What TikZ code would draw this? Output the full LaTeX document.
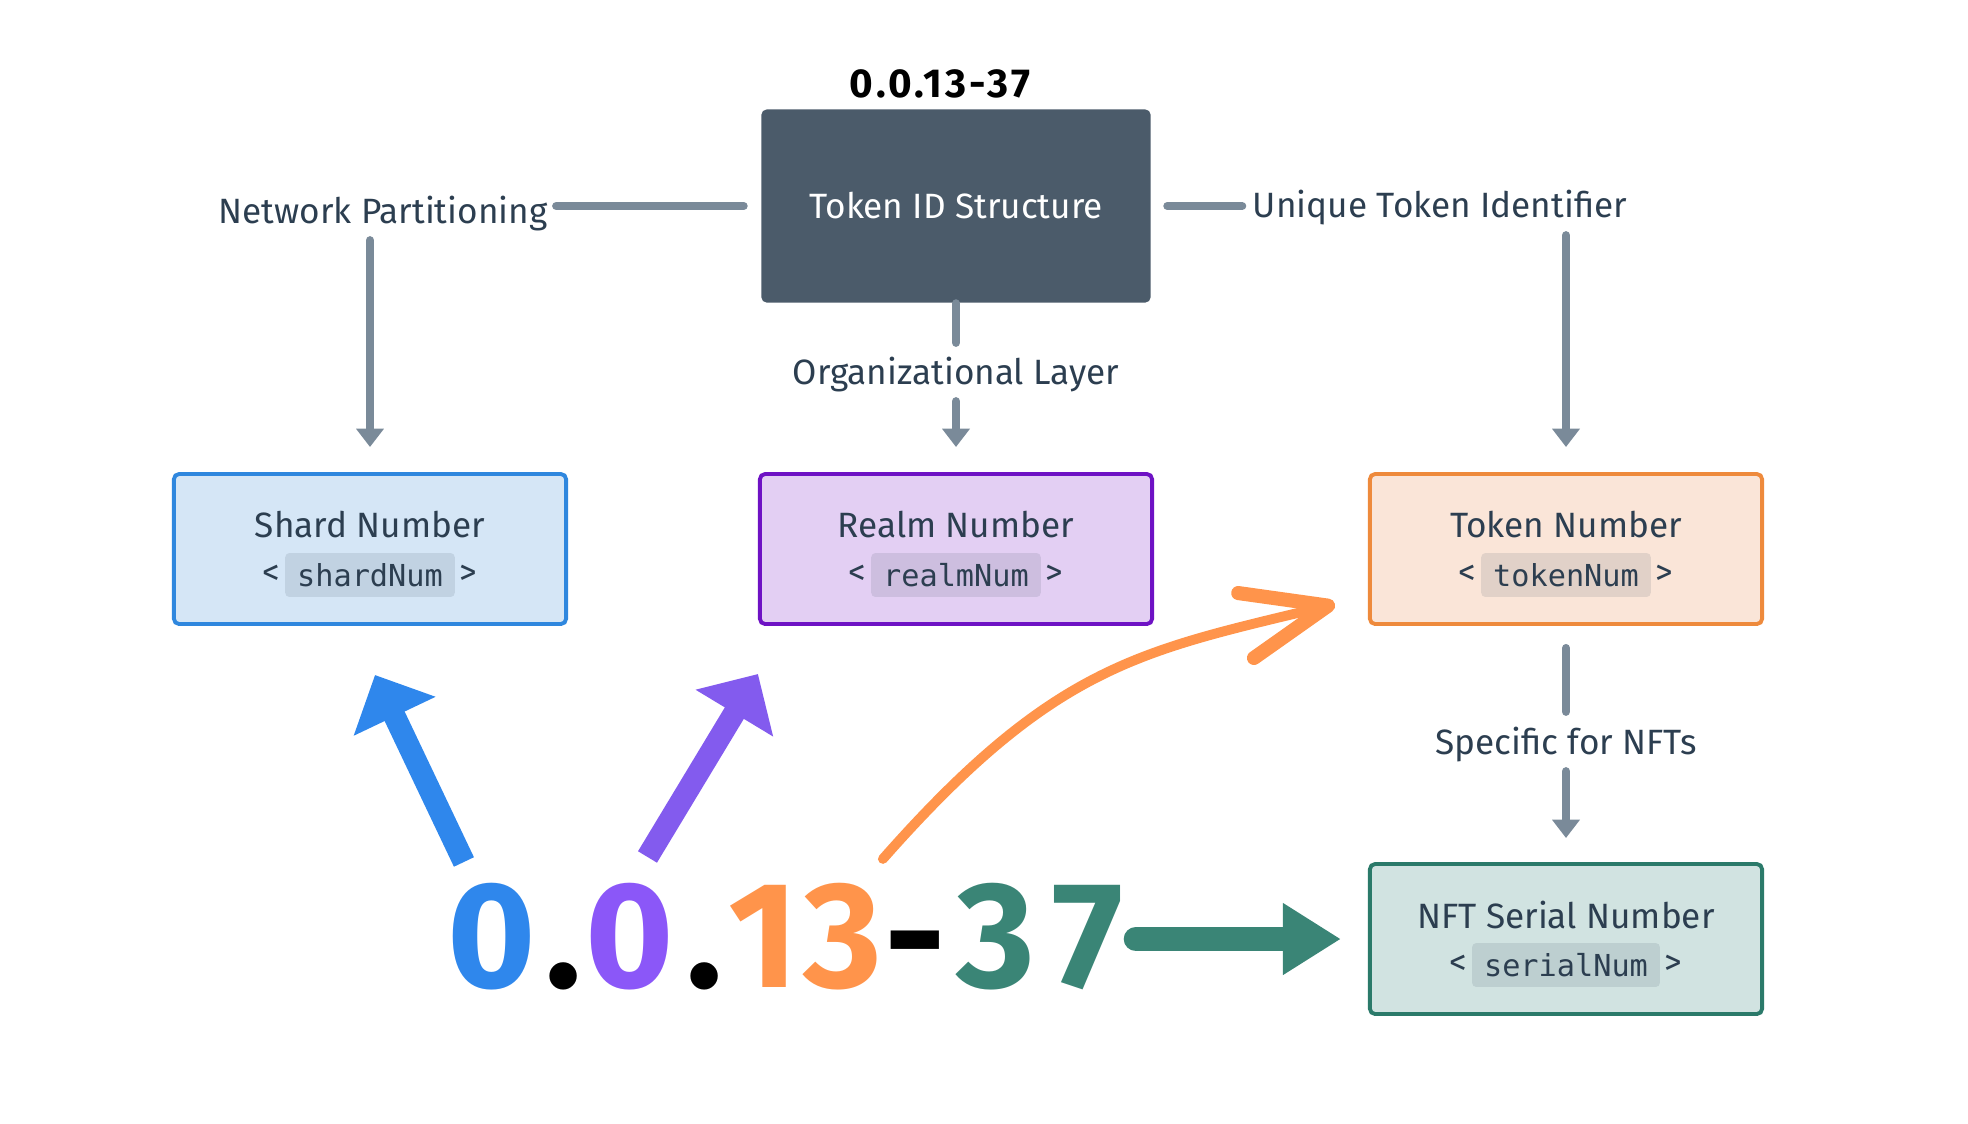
\documentclass[tikz,border=0pt]{standalone}
\usepackage{fontspec}
\setmainfont{Fira Sans}
\setmonofont{DejaVu Sans Mono}
\usetikzlibrary{arrows.meta, positioning, calc}

\definecolor{slatebox}{HTML}{4B5B6A}
\definecolor{inkdark}{HTML}{2C3E50}
\definecolor{linkgray}{HTML}{7A8A99}
\definecolor{shardline}{HTML}{2F87DE}
\definecolor{shardfill}{HTML}{D5E6F6}
\definecolor{realmline}{HTML}{6E12C4}
\definecolor{realmfill}{HTML}{E3CFF3}
\definecolor{tokenline}{HTML}{EE8A3C}
\definecolor{tokenfill}{HTML}{FAE5D8}
\definecolor{nftline}{HTML}{2B7A6A}
\definecolor{nftfill}{HTML}{D1E3E1}
\definecolor{numblue}{HTML}{2F87EC}
\definecolor{numpurple}{HTML}{8B57F8}
\definecolor{arrowpurple}{HTML}{835BEE}
\definecolor{numorange}{HTML}{FF944B}
\definecolor{numteal}{HTML}{3A8576}

\begin{document}
\begin{tikzpicture}[
    x=0.01cm, y=-0.01cm,
    txt/.style={font=\fontsize{10}{12}\selectfont, text=inkdark, inner sep=0pt},
    idbox/.style={rectangle, rounded corners=1.5pt, fill=slatebox, minimum width=3.89cm, minimum height=1.93cm, text=white, font=\fontsize{10}{12}\selectfont},
    numbox/.style={rectangle, rounded corners=1.5pt, line width=1.1pt, minimum width=3.92cm, minimum height=1.5cm},
    chip/.style={rectangle, rounded corners=1.2pt, font=\ttfamily\fontsize{8.6}{10}\selectfont, text=inkdark, minimum height=12.5pt, inner xsep=3.4pt, inner ysep=0pt},
    link/.style={draw=linkgray, line width=2.3pt, line cap=round},
    linkarrow/.style={link, -{Triangle[width=7.6pt, length=5.2pt]}},
    bignum/.style={font=\fontsize{43}{43}\selectfont\bfseries, inner sep=0pt, anchor=base west},
    fatarrow/.style={line width=6.3pt, -{Triangle[width=25pt, length=13pt]}},
    curvearrow/.style={draw=numorange, line width=2.8pt, line cap=round, -{Straight Barb[length=24pt, width=19pt, line width=4pt, round]}},
    flatarrow/.style={draw=numteal, fill=numteal, line width=7pt, line cap=round, -{Triangle[width=19.3pt, length=16.5pt]}}
]
    \useasboundingbox (0,0) rectangle (1968,1123);

    % Top structure box
    \node[idbox] (tokenid) at (956,206) {Token ID Structure};
    \node[font=\fontsize{11.5}{13}\selectfont\bfseries\addfontfeature{LetterSpace=8}, inner sep=0pt, above=0.1cm of tokenid, xshift=-0.16cm] (idtitle) {0.0.13-37};

    % Part boxes
    \node[numbox, draw=shardline, fill=shardfill] (shard) at (370,549) {};
    \node[txt] (shardtitle) at ($(shard)+(0,-24)$) {Shard Number};
    \node[chip, fill=shardfill!88!inkdark] (shardcode) at ($(shard)+(0,26)$) {shardNum};
    \node[txt, left=1pt of shardcode] (shardopen) {<};
    \node[txt, right=1pt of shardcode] (shardclose) {>};

    \node[numbox, draw=realmline, fill=realmfill] (realm) at (956,549) {};
    \node[txt] (realmtitle) at ($(realm)+(0,-24)$) {Realm Number};
    \node[chip, fill=realmfill!88!inkdark] (realmcode) at ($(realm)+(0,26)$) {realmNum};
    \node[txt, left=1pt of realmcode] (realmopen) {<};
    \node[txt, right=1pt of realmcode] (realmclose) {>};

    \node[numbox, draw=tokenline, fill=tokenfill] (token) at (1566,549) {};
    \node[txt] (tokentitle) at ($(token)+(0,-24)$) {Token Number};
    \node[chip, fill=tokenfill!88!inkdark] (tokencode) at ($(token)+(0,26)$) {tokenNum};
    \node[txt, left=1pt of tokencode] (tokenopen) {<};
    \node[txt, right=1pt of tokencode] (tokenclose) {>};

    \node[numbox, draw=nftline, fill=nftfill] (nft) at (1566,939) {};
    \node[txt] (nfttitle) at ($(nft)+(0,-24)$) {NFT Serial Number};
    \node[chip, fill=nftfill!88!inkdark] (nftcode) at ($(nft)+(0,26)$) {serialNum};
    \node[txt, left=1pt of nftcode] (nftopen) {<};
    \node[txt, right=1pt of nftcode] (nftclose) {>};

    % Connector labels
    \node[txt] (partlabel) at (383,214) {Network Partitioning};
    \node[txt] (uniqlabel) at (1440,208) {Unique Token Identifier};
    \node[txt] (orglabel) at (956,375) {Organizational Layer};
    \node[txt] (nftlabel) at (1566,745) {Specific for NFTs};

    % Gray connectors
    \draw[link, shorten <=0.17cm, shorten >=0.08cm] (tokenid.west) -- (partlabel.east |- tokenid.west);
    \draw[linkarrow, shorten <=0.08cm, shorten >=0.25cm] (partlabel.south -| shard.north) -- (shard.north);
    \draw[link, shorten <=0.16cm, shorten >=0.1cm] (tokenid.east) -- (uniqlabel.west |- tokenid.east);
    \draw[linkarrow, shorten <=0.09cm, shorten >=0.25cm] (uniqlabel.south -| token.north) -- (token.north);
    \draw[link, shorten >=0.14cm] (tokenid.south) -- (orglabel.north);
    \draw[linkarrow, shorten <=0.08cm, shorten >=0.25cm] (orglabel.south) -- (realm.north);
    \draw[link, shorten <=0.22cm, shorten >=0.15cm] (token.south) -- (nftlabel.north);
    \draw[linkarrow, shorten <=0.08cm, shorten >=0.24cm] (nftlabel.south) -- (nft.north);

    % Big coloured id
    \node[bignum, text=numblue] (dshard) at (447,987) {0};
    \node[bignum] (dotone) at ($(dshard.base east)+(8,0)$) {.};
    \node[bignum, text=numpurple] (drealm) at ($(dotone.base east)+(2,0)$) {0};
    \node[bignum] (dottwo) at ($(drealm.base east)+(11,0)$) {.};
    \node[bignum, text=numorange] (dtoken) at ($(dottwo.base east)+(5,0)$) {\addfontfeature{LetterSpace=3}13};
    \node[bignum] (dhyphen) at ($(dtoken.base east)+(1,0)$) {-};
    \node[bignum, text=numteal] (dserial) at ($(dhyphen.base east)+(9,0)$) {\addfontfeature{LetterSpace=12}37};

    % Coloured arrows
    \coordinate (blueTail) at ($(dshard.north)+(-28,-20)$);
    \coordinate (blueTip) at ($(shard.south)+(5,49)$);
    \draw[fatarrow, numblue] (blueTail) -- (blueTip);

    \coordinate (purpleTail) at ($(drealm.north)+(18,-25)$);
    \coordinate (purpleTip) at ($(realm.south west)+(0,48)$);
    \draw[fatarrow, arrowpurple] (purpleTail) -- (purpleTip);

    \coordinate (orangeTail) at ($(dtoken.north east)+(0,-23)$);
    \coordinate (orangeTip) at ($(token.south west)+(-33,-22)$);
    \draw[curvearrow] (orangeTail) .. controls ($(orangeTail)+(172,-195)$) and ($(orangeTip)+(-194,47)$) .. (orangeTip);

    \draw[flatarrow, shorten <=0.12cm, shorten >=0.27cm] (dserial.east |- nft.west) -- (nft.west);

\end{tikzpicture}
\end{document}
